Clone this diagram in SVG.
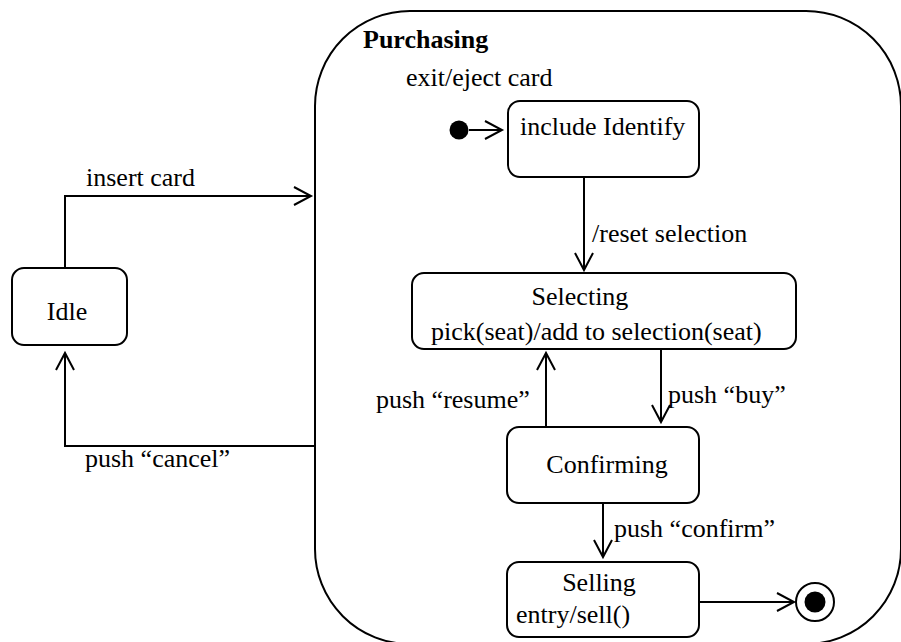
<svg xmlns="http://www.w3.org/2000/svg" width="901" height="642" viewBox="0 0 901 642" font-family="Liberation Serif, serif" font-size="26">
  <style>
    .box { fill: #fff; stroke: #000; stroke-width: 2; }
    .edge { fill: none; stroke: #000; stroke-width: 2; }
    .bold { font-weight: bold; }
    .mid { text-anchor: middle; }
  </style>
  <defs>
    <marker id="open" markerUnits="userSpaceOnUse" markerWidth="24" markerHeight="24" viewBox="-20 -12 22 24" refX="0" refY="0" orient="auto">
      <path d="M-17,-9 L0,0 L-17,9" fill="none" stroke="#000" stroke-width="2"/>
    </marker>
  </defs>
  <rect width="901" height="642" fill="#fff"/>

  <!-- composite state -->
  <g id="purchasing">
    <rect class="box" x="315" y="11" width="586" height="633" rx="95" ry="95"/>
    <text class="bold" x="363" y="48">Purchasing</text>
    <text x="406" y="86">exit/eject card</text>
  </g>

  <g id="idle">
    <rect class="box" x="12" y="268" width="115" height="77" rx="12"/>
    <text class="mid" x="67" y="320">Idle</text>
  </g>

  <g id="initial">
    <circle cx="459" cy="130" r="9.5" fill="#000"/>
  </g>

  <g id="include-identify">
    <rect class="box" x="508" y="101" width="191" height="76" rx="12"/>
    <text x="520" y="135">include Identify</text>
  </g>

  <g id="selecting">
    <rect class="box" x="412" y="273" width="384" height="76" rx="12"/>
    <text class="mid" x="580" y="305">Selecting</text>
    <text x="431" y="340">pick(seat)/add to selection(seat)</text>
  </g>

  <g id="confirming">
    <rect class="box" x="507" y="427" width="192" height="76" rx="12"/>
    <text class="mid" x="607" y="473">Confirming</text>
  </g>

  <g id="selling">
    <rect class="box" x="507" y="562" width="192" height="75" rx="12"/>
    <text class="mid" x="599" y="591">Selling</text>
    <text x="516" y="623">entry/sell()</text>
  </g>

  <g id="final">
    <circle cx="815" cy="602" r="19" fill="#fff" stroke="#000" stroke-width="2"/>
    <circle cx="815" cy="602" r="10.5" fill="#000"/>
  </g>

  <!-- transitions -->
  <g id="connectors">
    <path class="edge" d="M65,268 V196 H311" marker-end="url(#open)"/>
    <text x="86" y="186">insert card</text>

    <path class="edge" d="M315,446 H65 V353" marker-end="url(#open)"/>
    <text x="85" y="467">push “cancel”</text>

    <path class="edge" d="M469,130 H502" marker-end="url(#open)"/>

    <path class="edge" d="M584,177 V270" marker-end="url(#open)"/>
    <text x="592" y="242">/reset selection</text>

    <path class="edge" d="M546,427 V353" marker-end="url(#open)"/>
    <text x="376" y="408">push “resume”</text>

    <path class="edge" d="M661,349 V422" marker-end="url(#open)"/>
    <text x="668" y="403">push “buy”</text>

    <path class="edge" d="M603,503 V557" marker-end="url(#open)"/>
    <text x="614" y="537">push “confirm”</text>

    <path class="edge" d="M699,602 H794" marker-end="url(#open)"/>
  </g>
</svg>
